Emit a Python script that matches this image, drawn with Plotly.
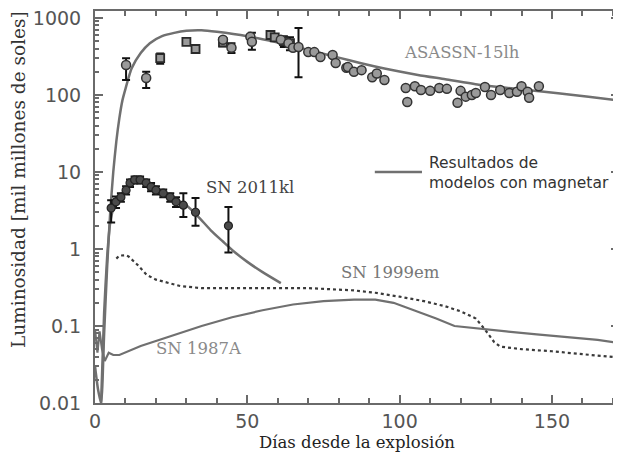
import plotly.graph_objects as go

# ---------------- data ----------------
# Model curves (days, luminosity in 1e9 Lsun)
asassn_model_x = [0, 1, 2, 3, 4, 5, 6, 7, 8, 9, 10, 12, 15, 18, 22, 26, 30, 35, 40, 50, 55, 60, 70, 80, 87, 95, 106, 115, 126, 140, 152, 162, 172]
asassn_model_y = [0.03, 0.015, 0.01, 0.08, 0.6, 3, 10, 25, 50, 85, 120, 220, 350, 470, 580, 640, 680, 690, 660, 580, 530, 480, 385, 305, 260, 220, 182, 160, 136, 118, 105, 95, 85]

kl_model_x = [2, 3, 4, 5, 6, 8, 10, 12, 14, 16, 18, 20, 24, 28, 30, 34, 38, 42, 46, 50, 55, 61]
kl_model_y = [0.01, 0.15, 0.8, 2.2, 3.3, 4.6, 6.0, 7.2, 7.7, 7.5, 6.9, 6.1, 5.0, 4.1, 3.7, 2.6, 1.75, 1.25, 0.9, 0.68, 0.5, 0.36]

em_x = [7, 8, 10, 11, 14, 17, 20, 24, 28, 35, 50, 70, 85, 92, 100, 108, 115, 120, 125, 128, 131, 133, 140, 150, 160, 172]
em_y = [0.75, 0.82, 0.83, 0.8, 0.62, 0.46, 0.40, 0.36, 0.33, 0.31, 0.31, 0.31, 0.29, 0.27, 0.24, 0.21, 0.18, 0.155, 0.125, 0.09, 0.062, 0.054, 0.05, 0.047, 0.043, 0.039]

sn87_x = [0, 0.8, 1.5, 2.3, 3.2, 4.5, 6, 8, 15, 25, 35, 45, 55, 65, 75, 85, 92, 98, 105, 112, 118, 125, 135, 145, 155, 165, 172]
sn87_y = [0.09, 0.045, 0.085, 0.05, 0.035, 0.045, 0.042, 0.042, 0.055, 0.075, 0.1, 0.13, 0.16, 0.19, 0.21, 0.22, 0.22, 0.2, 0.16, 0.125, 0.1, 0.093, 0.085, 0.078, 0.072, 0.066, 0.06]

# ASASSN-15lh observations (circles)
asassn_x = [10.2, 16.8, 42, 44.8, 51, 51.5, 61, 63.5, 65, 66.8, 70, 72, 74, 78, 79, 82.5,
            83, 85, 87.5, 91, 92.5, 95, 102, 102.5, 105, 107, 110, 113, 115.5, 120, 119,
            121.7, 123.7, 125, 128, 130, 133, 136, 138.5, 140, 142, 142.5, 145.7]
asassn_y = [245, 166, 520, 410, 570, 490, 520, 470, 410, 420, 360, 360, 310, 330, 260, 225,
            230, 200, 210, 170, 190, 156, 123, 81, 130, 116, 113, 123, 120, 113, 79,
            95, 100, 106, 127, 100, 116, 106, 110, 130, 110, 92, 130]
asassn_err_plus = [55, 34, 0, 60, 0, 150, 0, 0, 0, 320, 0, 0, 0, 0, 0, 0,
                   0, 0, 0, 0, 0, 0, 0, 0, 0, 0, 0, 0, 0, 0, 0,
                   0, 0, 0, 0, 0, 0, 0, 0, 0, 0, 0, 0]
asassn_err_minus = [89, 43, 0, 60, 0, 105, 0, 0, 0, 250, 0, 0, 0, 0, 0, 0,
                    0, 0, 0, 0, 0, 0, 0, 0, 0, 0, 0, 0, 0, 0, 0,
                    0, 0, 0, 0, 0, 0, 0, 0, 0, 0, 0, 0]

# ASASSN-15lh observations (squares)
asassn_sq_x = [21.4, 30, 33, 42, 57.6, 59, 62, 64]
asassn_sq_y = [300, 490, 395, 480, 600, 560, 500, 470]
asassn_sq_err = [45, 40, 40, 50, 60, 60, 80, 90]

# SN 2011kl observations
kl_x = [5.3, 6.9, 8.5, 10.2, 11.5, 13, 14.8, 16.8, 18.4, 20, 22.4, 24.7, 26.6, 29, 33, 43.8]
kl_y = [3.4, 4.1, 4.7, 5.8, 7.2, 7.9, 7.9, 7.2, 6.4, 5.8, 5.3, 4.7, 4.1, 3.7, 3.0, 2.0]
kl_err_plus = [0.9, 0.7, 0.6, 0.7, 0.8, 0.8, 0.8, 0.8, 0.8, 0.7, 0.6, 0.6, 0.6, 1.6, 1.6, 1.5]
kl_err_minus = [1.2, 0.7, 0.6, 0.7, 0.8, 0.8, 0.8, 0.8, 0.8, 0.7, 0.6, 0.6, 0.6, 1.1, 1.0, 1.1]

y_tickvals = [0.01, 0.1, 1, 10, 100, 1000]
y_ticktext = ["0.01", "0.1", "1", "10", "100", "1000"]
x_tickvals = [0, 50, 100, 150]

# ---------------- figure ----------------
# The page body has an 8px margin, so the figure is 8px smaller than the window.
FIG_W, FIG_H = 613, 451
M_L, M_R, M_T, M_B = 87, 2, 3, 56
plot_w = FIG_W - M_L - M_R
plot_h = FIG_H - M_T - M_B

model_color = "#707070"
fig = go.Figure()

fig.add_trace(go.Scatter(x=em_x, y=em_y, mode="lines",
                         line=dict(color="#3a3a3a", width=2.2, dash="dot")))
fig.add_trace(go.Scatter(x=sn87_x, y=sn87_y, mode="lines",
                         line=dict(color=model_color, width=2.2)))
fig.add_trace(go.Scatter(x=asassn_model_x, y=asassn_model_y, mode="lines",
                         line=dict(color=model_color, width=2.5, shape="spline", smoothing=0.6)))
fig.add_trace(go.Scatter(x=kl_model_x, y=kl_model_y, mode="lines",
                         line=dict(color=model_color, width=2.5, shape="spline", smoothing=0.6)))

fig.add_trace(go.Scatter(
    x=asassn_sq_x, y=asassn_sq_y, mode="markers",
    marker=dict(symbol="square", size=8, color="#9a9a9a", line=dict(color="#2a2a2a", width=1.8)),
    error_y=dict(type="data", array=asassn_sq_err, color="#111", thickness=2, width=4)))
fig.add_trace(go.Scatter(
    x=asassn_x, y=asassn_y, mode="markers",
    marker=dict(symbol="circle", size=9, color="#9a9a9a", line=dict(color="#333", width=1.5)),
    error_y=dict(type="data", symmetric=False, array=asassn_err_plus, arrayminus=asassn_err_minus,
                 color="#111", thickness=2, width=4)))
fig.add_trace(go.Scatter(
    x=kl_x, y=kl_y, mode="markers",
    marker=dict(symbol="circle", size=8, color="#4a4a4a", line=dict(color="#222", width=1.2)),
    error_y=dict(type="data", symmetric=False, array=kl_err_plus, arrayminus=kl_err_minus,
                 color="#111", thickness=2, width=4)))

# legend line segment (paper coords)
fig.add_shape(type="line", xref="paper", yref="paper", x0=0.534, x1=0.624, y0=0.589, y1=0.589,
              line=dict(color=model_color, width=2.5))

serif = "DejaVu Serif"
annos = [
    dict(x=0.70, y=0.895, text="ASASSN-15lh", color="#8a8a8a", size=16.5),
    dict(x=0.296, y=0.551, text="SN 2011kl", color="#444", size=16.5),
    dict(x=0.563, y=0.332, text="SN 1999em", color="#777", size=16.5),
    dict(x=0.198, y=0.138, text="SN 1987A", color="#8a8a8a", size=16.5),
]
for a in annos:
    fig.add_annotation(x=a["x"], y=a["y"], xref="paper", yref="paper", text=a["text"],
                       xanchor="center", yanchor="middle",
                       showarrow=False, font=dict(family=serif, size=a["size"], color=a["color"]))
fig.add_annotation(x=0.633, y=0.587, xref="paper", yref="paper", xanchor="left", yanchor="middle",
                   text="Resultados de<br>modelos con magnetar", showarrow=False, align="left",
                   font=dict(family="DejaVu Sans", size=15.5, color="#333"))

# y-axis title as rotated annotation (positioned as in the reference)
fig.add_annotation(x=(10 - M_L) / plot_w, y=(FIG_H - M_B - 172) / plot_h,
                   xref="paper", yref="paper", text="Luminosidad [mil millones de soles]",
                   xanchor="center", yanchor="middle",
                   showarrow=False, textangle=-90,
                   font=dict(family=serif, size=18.5, color="#333"))

axis_common = dict(showline=True, linecolor="#6a6a6a", linewidth=2, mirror="allticks",
                   ticks="inside", tickcolor="#6a6a6a", showgrid=False, zeroline=False,
                   automargin=False, ticklabeloverflow="allow",
                   tickfont=dict(family="DejaVu Sans", size=19, color="#555"))

fig.update_xaxes(range=[0, 172], tickvals=x_tickvals, ticklen=8, tickwidth=1.5,
                 minor=dict(ticks="inside", dtick=10, ticklen=5, tickcolor="#6a6a6a"),
                 title=dict(text="Días desde la explosión",
                            font=dict(family=serif, size=16.5, color="#222"), standoff=6),
                 **axis_common)
fig.update_yaxes(type="log", range=[-2, 3.09], tickvals=y_tickvals, ticktext=y_ticktext,
                 ticklen=8, tickwidth=1.5, ticklabelstandoff=8,
                 minor=dict(ticks="inside", dtick="D1", ticklen=4, tickcolor="#6a6a6a"),
                 **axis_common)

fig.update_layout(width=FIG_W, height=FIG_H, showlegend=False,
                  margin=dict(l=M_L, r=M_R, t=M_T, b=M_B),
                  paper_bgcolor="white", plot_bgcolor="white")

fig.write_html("out.html")
